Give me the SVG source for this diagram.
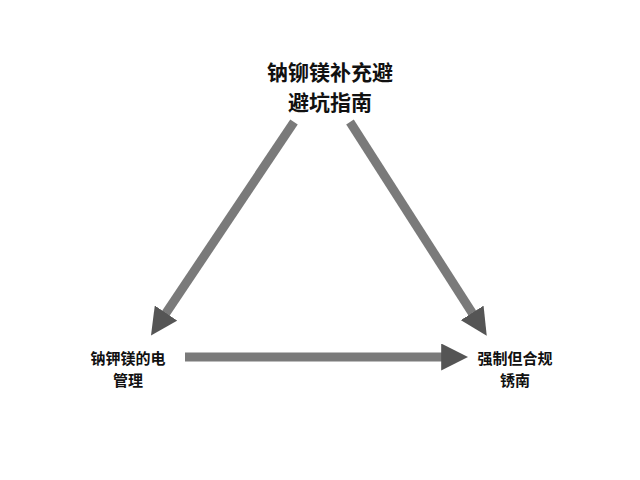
<svg xmlns="http://www.w3.org/2000/svg" width="640" height="480" viewBox="0 0 640 480">
<defs>
<marker id="ah" markerWidth="3" markerHeight="3" refX="1.2" refY="1.5" orient="auto"><path d="M0,0 L3,1.5 L0,3 Z" fill="#555"/></marker>
<style>
.c{stroke:#7a7a7a;stroke-width:9;fill:none;marker-end:url(#ah)}
text{font-family:"Noto Sans CJK SC","Noto Sans",sans-serif;font-weight:bold;fill:#111;text-anchor:middle}
</style>
</defs>
<rect width="640" height="480" fill="#fff"/>
<g id="connectors">
<line class="c" x1="294" y1="122" x2="160" y2="322"/>
<line class="c" x1="350" y1="122" x2="478" y2="322"/>
<line class="c" x1="185" y1="357" x2="452" y2="357"/>
</g>
<g id="top"><text x="330" y="80" font-size="21">钠铆镁补充避</text><text x="330" y="110" font-size="21">避坑指南</text></g>
<g id="left"><text x="128" y="364" font-size="15">钠钾镁的电</text><text x="128" y="386" font-size="15">管理</text></g>
<g id="right"><text x="515" y="364" font-size="15">强制但合规</text><text x="515" y="386" font-size="15">锈南</text></g>
</svg>
